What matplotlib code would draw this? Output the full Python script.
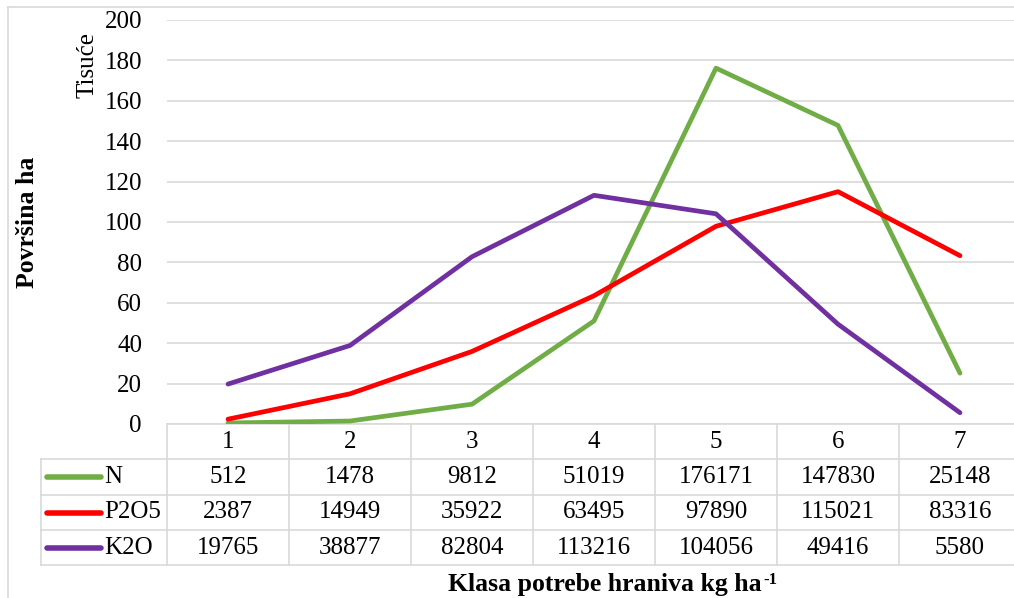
import matplotlib.pyplot as plt
from matplotlib.lines import Line2D

plt.rcParams['font.family'] = ['Liberation Serif', 'DejaVu Serif']

# data
categories = ['1', '2', '3', '4', '5', '6', '7']
series_names = ['N', 'P2O5', 'K2O']
n_vals = [512, 1478, 9812, 51019, 176171, 147830, 25148]
p2o5_vals = [2387, 14949, 35922, 63495, 97890, 115021, 83316]
k2o_vals = [19765, 38877, 82804, 113216, 104056, 49416, 5580]
colors = ['#70AD47', '#FF0000', '#7030A0']

W, H = 1014, 598
fs = 18
fig = plt.figure(figsize=(W / 100, H / 100), dpi=100)

# axes in pixel placement
ax_l, ax_r, ax_t, ax_b = 167, 1021, 20, 424
ax = fig.add_axes([ax_l / W, 1 - ax_b / H, (ax_r - ax_l) / W, (ax_b - ax_t) / H])

x = list(range(1, len(categories) + 1))
for vals, c in zip([n_vals, p2o5_vals, k2o_vals], colors):
    ax.plot(x, [v / 1000 for v in vals], color=c, lw=3.4, solid_capstyle='round', zorder=3)

ax.set_xlim(0.5, len(categories) + 0.5)
ax.set_ylim(0, 200)
ax.set_yticks(range(0, 201, 20))
ax.set_xticks([])
ax.grid(axis='y', color='#d9d9d9', lw=1.2)
ax.set_axisbelow(True)
for s in ['top', 'right', 'left']:
    ax.spines[s].set_visible(False)
ax.spines['bottom'].set_color('#d9d9d9')
ax.spines['bottom'].set_linewidth(1.2)
ax.tick_params(axis='y', length=0, pad=18, labelsize=fs)

# pixel -> axes coords helpers
def axx(px):
    return (px - ax_l) / (ax_r - ax_l)

def axy(py):
    return (ax_b - py) / (ax_b - ax_t)

# data table under the plot
rows_y = [424, 459, 495, 530, 565]
gc = '#d9d9d9'
for yy in rows_y[1:]:
    ax.add_line(Line2D([axx(41), 1], [axy(yy)] * 2, transform=ax.transAxes,
                       color=gc, lw=1.2, clip_on=False))
for k in range(len(categories) + 1):
    ax.add_line(Line2D([k / len(categories)] * 2, [axy(424), axy(565)],
                       transform=ax.transAxes, color=gc, lw=1.2, clip_on=False))
ax.add_line(Line2D([axx(41)] * 2, [axy(459), axy(565)], transform=ax.transAxes,
                   color=gc, lw=1.2, clip_on=False))

for k, cat in enumerate(categories):
    ax.text((k + 0.5) / len(categories), axy((rows_y[0] + rows_y[1]) / 2), cat,
            transform=ax.transAxes, ha='center', va='center', fontsize=fs)

for r, (name, vals, c) in enumerate(zip(series_names, [n_vals, p2o5_vals, k2o_vals], colors)):
    yc = axy((rows_y[r + 1] + rows_y[r + 2]) / 2)
    ax.add_line(Line2D([axx(47), axx(101)], [yc, yc], transform=ax.transAxes,
                       color=c, lw=4, solid_capstyle='round', clip_on=False))
    ax.text(axx(104), yc, name, transform=ax.transAxes, ha='left', va='center',
            fontsize=fs)
    for k, v in enumerate(vals):
        ax.text((k + 0.5) / len(categories), yc, str(v), transform=ax.transAxes,
                ha='center', va='center', fontsize=fs)

# labels
fig.text(28 / W, 1 - 222 / H, 'Površina ha', rotation=90, ha='center', va='center',
         fontsize=18.5, fontweight='bold')
fig.text(88 / W, 1 - 65 / H, 'Tisuće', rotation=90, ha='center', va='center',
         fontsize=fs)
xl = fig.text(605 / W, 1 - 585 / H, 'Klasa potrebe hraniva kg ha',
              ha='center', va='center', fontsize=18.5, fontweight='bold')
ax.annotate('-1', xy=(1, 1), xycoords=xl, xytext=(1, 1), textcoords='offset points',
            ha='left', va='top', fontsize=12, fontweight='bold', annotation_clip=False)

# chart border
fig.add_artist(Line2D([8 / W, 8 / W], [0, 1 - 7 / H], color=gc, lw=1.2))
fig.add_artist(Line2D([8 / W, 1], [1 - 7 / H, 1 - 7 / H], color=gc, lw=1.2))

fig.savefig('out.png', dpi=100)
